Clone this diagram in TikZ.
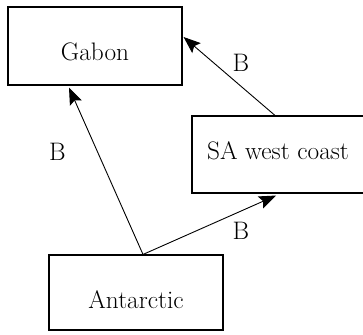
\documentclass[tikz,border=0pt]{standalone}
\usepackage{fontspec}
\usetikzlibrary{arrows.meta,calc}
\begin{document}
\begin{tikzpicture}[x=1pt,y=1pt,
  font=\fontsize{25.3}{30}\selectfont,
  box/.style={draw,line width=1.1pt,inner sep=0pt,text depth=0pt},
  conn/.style={line width=0.9pt,-{Stealth[length=17pt,width=13pt,inset=3pt]}},
  lbl/.style={inner sep=0pt}]
\useasboundingbox (0,0) rectangle (363,334);
\node[box,minimum width=174pt,minimum height=78pt,text height=29.2pt] (gab) at (95,288) {Gabon};
\node[box,minimum width=172pt,minimum height=77pt,text height=10.2pt] (sa) at (278,179.5) {SA west coast};
\node[box,minimum width=174pt,minimum height=75pt,text height=32.2pt] (ant) at (136,41.5) {Antarctic};
\coordinate (antTop) at ($(ant.north)+(7,0)$);
\coordinate (gabBot) at ($(gab.south)+(-26,-2)$);
\coordinate (saBot) at ($(sa.south)+(-2,-2)$);
\coordinate (saTop) at ($(sa.north)+(-3,0)$);
\coordinate (gabRight) at ($(gab.east)+(1,9)$);
\draw[conn] (antTop) -- (gabBot);
\draw[conn] (antTop) -- (saBot);
\draw[conn] (saTop) -- (gabRight);
\node[lbl] (b1) at (57.5,182) {B};
\node[lbl] (b2) at (241,103) {B};
\node[lbl] (b3) at (241,271) {B};
\end{tikzpicture}
\end{document}
